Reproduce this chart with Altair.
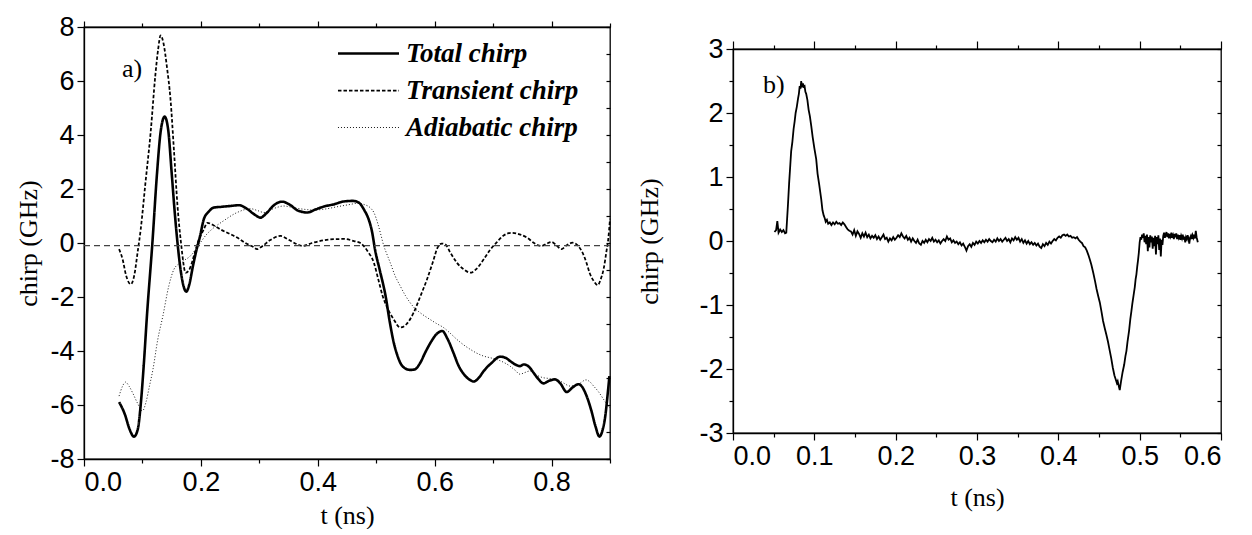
import altair as alt
import pandas as pd

# ---------------- Panel a) : simulated chirp ----------------
series_names = ["Total chirp", "Transient chirp", "Adiabatic chirp"]

total_t = [0.060, 0.070, 0.078, 0.0855, 0.092, 0.097, 0.102, 0.108, 0.117, 0.125, 0.131, 0.138, 0.144,
           0.150, 0.155, 0.160, 0.166, 0.171, 0.175, 0.180, 0.186, 0.192, 0.198, 0.205, 0.213, 0.222,
           0.235, 0.250, 0.265, 0.280, 0.292, 0.302, 0.312, 0.325, 0.339, 0.352, 0.366, 0.382, 0.397,
           0.412, 0.427, 0.445, 0.460, 0.470, 0.480, 0.487, 0.493, 0.498, 0.506, 0.516, 0.523, 0.530,
           0.536, 0.541, 0.550, 0.558, 0.566, 0.575, 0.584, 0.593, 0.603, 0.613, 0.622, 0.632, 0.641,
           0.650, 0.659, 0.667, 0.676, 0.684, 0.697, 0.712, 0.722, 0.729, 0.738, 0.746, 0.752, 0.758,
           0.764, 0.769, 0.778, 0.786, 0.796, 0.806, 0.815, 0.826, 0.836, 0.846, 0.853, 0.860, 0.868,
           0.875, 0.882, 0.887, 0.892, 0.896, 0.899]
total_v = [-5.89, -6.35, -6.90, -7.17, -6.90, -6.00, -4.60, -2.60, 0.00, 2.60, 4.10, 4.68, 4.20,
           2.60, 1.20, 0.00, -1.10, -1.65, -1.80, -1.55, -0.90, -0.30, 0.20, 0.88, 1.15, 1.31,
           1.34, 1.37, 1.40, 1.25, 1.05, 0.94, 1.10, 1.40, 1.53, 1.42, 1.20, 1.13, 1.25,
           1.36, 1.43, 1.54, 1.56, 1.50, 1.20, 0.88, 0.40, -0.25, -1.00, -1.96, -2.90, -3.69,
           -4.15, -4.43, -4.65, -4.70, -4.68, -4.45, -4.05, -3.69, -3.38, -3.26, -3.55, -4.06, -4.55,
           -4.86, -5.05, -5.13, -4.98, -4.74, -4.45, -4.21, -4.26, -4.37, -4.50, -4.56, -4.50, -4.53,
           -4.65, -4.80, -5.05, -5.20, -5.10, -5.05, -5.20, -5.52, -5.35, -5.23, -5.35, -5.67, -6.20,
           -6.78, -7.17, -6.95, -6.40, -5.60, -4.93]

trans_t = [0.060, 0.066, 0.072, 0.080, 0.086, 0.092, 0.097, 0.105, 0.114, 0.122, 0.127, 0.131, 0.136,
           0.142, 0.148, 0.154, 0.160, 0.166, 0.174, 0.181, 0.188, 0.196, 0.205, 0.211, 0.222, 0.233,
           0.248, 0.262, 0.276, 0.290, 0.296, 0.305, 0.318, 0.336, 0.352, 0.365, 0.374, 0.390, 0.410,
           0.427, 0.445, 0.462, 0.473, 0.485, 0.496, 0.503, 0.511, 0.520, 0.530, 0.541, 0.552, 0.564,
           0.575, 0.587, 0.597, 0.605, 0.612, 0.618, 0.628, 0.638, 0.650, 0.661, 0.672, 0.684, 0.695,
           0.706, 0.718, 0.732, 0.745, 0.758, 0.770, 0.783, 0.792, 0.800, 0.808, 0.817, 0.826, 0.836,
           0.845, 0.853, 0.860, 0.865, 0.872, 0.879, 0.884, 0.889, 0.894, 0.897, 0.900]
trans_v = [-0.23, -0.60, -1.20, -1.53, -1.20, -0.30, 0.50, 2.20, 4.09, 6.20, 7.20, 7.69, 7.40,
           6.50, 5.32, 3.40, 1.37, 0.00, -1.10, -0.95, -0.48, 0.10, 0.50, 0.75, 0.65, 0.51,
           0.35, 0.20, 0.00, -0.15, -0.23, -0.12, 0.10, 0.26, 0.10, -0.05, -0.11, 0.00, 0.10,
           0.14, 0.15, 0.07, 0.00, -0.30, -0.73, -1.30, -1.96, -2.45, -2.83, -3.13, -3.00, -2.58,
           -2.00, -1.34, -0.70, -0.17, -0.02, -0.05, -0.40, -0.73, -0.98, -1.10, -0.95, -0.60, -0.25,
           0.02, 0.28, 0.38, 0.32, 0.20, 0.00, -0.11, -0.02, 0.04, -0.08, -0.23, -0.08, 0.01,
           -0.10, -0.36, -0.75, -1.10, -1.40, -1.56, -1.35, -0.97, -0.30, 0.14, 0.90]

adia_t = [0.060, 0.066, 0.071, 0.077, 0.083, 0.092, 0.100, 0.106, 0.112, 0.118, 0.126, 0.135, 0.145,
          0.154, 0.165, 0.182, 0.199, 0.209, 0.219, 0.238, 0.262, 0.285, 0.297, 0.308, 0.325, 0.342,
          0.360, 0.376, 0.393, 0.410, 0.435, 0.456, 0.467, 0.480, 0.490, 0.496, 0.503, 0.508, 0.513,
          0.518, 0.524, 0.532, 0.541, 0.550, 0.558, 0.566, 0.575, 0.584, 0.592, 0.603, 0.615, 0.626,
          0.638, 0.650, 0.661, 0.672, 0.684, 0.695, 0.706, 0.718, 0.729, 0.738, 0.746, 0.754, 0.763,
          0.775, 0.786, 0.798, 0.809, 0.820, 0.832, 0.846, 0.859, 0.866, 0.872, 0.880, 0.889, 0.897, 0.900]
adia_v = [-5.67, -5.30, -5.15, -5.30, -5.54, -5.95, -6.22, -5.90, -5.30, -4.68, -3.60, -2.70, -1.60,
          -0.97, -0.73, -0.48, 0.01, 0.30, 0.51, 0.81, 1.13, 1.27, 1.20, 1.13, 1.28, 1.37,
          1.30, 1.25, 1.22, 1.25, 1.35, 1.43, 1.47, 1.42, 1.30, 1.13, 0.70, 0.30, -0.11,
          -0.40, -0.73, -1.20, -1.59, -1.95, -2.21, -2.42, -2.58, -2.72, -2.83, -2.98, -3.13, -3.33,
          -3.57, -3.78, -3.94, -4.08, -4.19, -4.25, -4.31, -4.42, -4.56, -4.72, -4.86, -4.80, -4.74,
          -4.90, -4.99, -5.02, -5.05, -5.18, -5.30, -5.23, -5.07, -5.15, -5.30, -5.50, -5.79, -6.04, -6.10]

baseline_t = [0.0, 0.9]
baseline_v = [-0.1, -0.1]

# ---------------- Panel b) : measured chirp ----------------
b_t = [0.051, 0.053, 0.0545, 0.056, 0.058, 0.060, 0.062, 0.064, 0.0655,
       0.0675, 0.069, 0.0705, 0.0715, 0.073, 0.0745, 0.0758, 0.077, 0.0785, 0.080, 0.081, 0.082,
       0.083, 0.0839, 0.085, 0.086, 0.087, 0.088, 0.089, 0.090, 0.0915, 0.093, 0.0945, 0.0962,
       0.098, 0.100, 0.1023, 0.104, 0.106, 0.1085, 0.110, 0.1115, 0.1127, 0.114, 0.1155, 0.117,
       0.119, 0.121, 0.123, 0.125, 0.127, 0.129, 0.131, 0.133, 0.135, 0.137, 0.139, 0.141, 0.143,
       0.145, 0.147, 0.149, 0.151, 0.153, 0.155, 0.157, 0.159, 0.161, 0.163, 0.165, 0.167, 0.169,
       0.171, 0.173, 0.175, 0.177, 0.179, 0.181, 0.183, 0.185, 0.187, 0.189, 0.191, 0.193, 0.195,
       0.197, 0.199, 0.201, 0.203, 0.205, 0.207, 0.209, 0.211, 0.213, 0.215, 0.217, 0.219, 0.221,
       0.223, 0.225, 0.227, 0.229, 0.231, 0.233, 0.235, 0.237, 0.239, 0.241, 0.243, 0.245, 0.247,
       0.249, 0.251, 0.253, 0.255, 0.257, 0.259, 0.261, 0.263, 0.265, 0.267, 0.269, 0.271, 0.273,
       0.275, 0.277, 0.279, 0.281, 0.283, 0.285, 0.287, 0.289, 0.291, 0.293, 0.295, 0.297, 0.299,
       0.301, 0.303, 0.305, 0.307, 0.309, 0.311, 0.313, 0.315, 0.317, 0.319, 0.321, 0.323, 0.325,
       0.327, 0.329, 0.331, 0.333, 0.335, 0.337, 0.339, 0.341, 0.343, 0.345, 0.347, 0.349, 0.351,
       0.353, 0.355, 0.357, 0.359, 0.361, 0.363, 0.365, 0.367, 0.369, 0.371, 0.373, 0.375, 0.377,
       0.379, 0.381, 0.383, 0.385, 0.387, 0.389, 0.391, 0.393, 0.395, 0.397, 0.399, 0.401, 0.403,
       0.405, 0.407, 0.409, 0.411, 0.413, 0.415, 0.417, 0.419, 0.421, 0.423, 0.425, 0.427, 0.429,
       0.431, 0.433, 0.435, 0.437, 0.439, 0.4406, 0.443, 0.445, 0.447, 0.449, 0.451, 0.453, 0.455,
       0.457, 0.459, 0.461, 0.463, 0.465, 0.467, 0.469, 0.4705, 0.472, 0.473, 0.4745, 0.4755, 0.477,
       0.479, 0.481, 0.4825, 0.4837, 0.485, 0.487, 0.4885, 0.4898, 0.491, 0.4925, 0.494, 0.495,
       0.496, 0.497, 0.498, 0.499, 0.500, 0.501, 0.502, 0.503, 0.504, 0.505, 0.506, 0.507, 0.508,
       0.509, 0.510, 0.511, 0.512, 0.513, 0.514, 0.515, 0.516, 0.517, 0.518, 0.519, 0.520, 0.521,
       0.522, 0.523, 0.524, 0.525, 0.526, 0.527, 0.528, 0.529, 0.530, 0.531, 0.532, 0.533, 0.534,
       0.535, 0.536, 0.537, 0.538, 0.539, 0.540, 0.541, 0.542, 0.543, 0.544, 0.545, 0.546, 0.547,
       0.548, 0.549, 0.550, 0.551, 0.552, 0.553, 0.554, 0.555, 0.556, 0.557, 0.558, 0.559, 0.560,
       0.561, 0.562, 0.563, 0.564, 0.565, 0.566, 0.567, 0.568, 0.569, 0.570, 0.5715]
b_v = [0.14, 0.17, 0.31, 0.13, 0.18, 0.14, 0.17, 0.12, 0.13,
       0.55, 0.90, 1.20, 1.40, 1.55, 1.75, 1.87, 2.00, 2.10, 2.23, 2.30, 2.42,
       2.38, 2.50, 2.40, 2.46, 2.41, 2.42, 2.33, 2.30, 2.20, 2.05, 1.95, 1.80,
       1.62, 1.45, 1.28, 1.05, 0.88, 0.65, 0.48, 0.40, 0.36, 0.30, 0.33, 0.27,
       0.29, 0.25, 0.29, 0.26, 0.30, 0.27, 0.28, 0.25, 0.29, 0.26, 0.22, 0.18, 0.16,
       0.15, 0.10, 0.17, 0.08, 0.15, 0.11, 0.05, 0.12, 0.07, 0.13, 0.06, 0.10, 0.04,
       0.08, 0.05, 0.09, 0.03, 0.07, 0.02, 0.06, 0.10, 0.03, 0.05, -0.01, 0.04, 0.01,
       0.06, 0.02, 0.05, 0.09, 0.06, 0.12, 0.07, 0.04, 0.08, 0.02, 0.05, -0.01, 0.04,
       0.00, -0.03, 0.02, -0.04, -0.06, 0.00, -0.03, 0.02, -0.02, 0.03, 0.00, 0.05, -0.01,
       0.02, -0.02, 0.01, -0.04, 0.00, 0.03, 0.00, 0.07, 0.02, 0.04, -0.02, 0.01, -0.03,
       -0.01, -0.05, -0.02, -0.07, -0.04, -0.09, -0.15, -0.08, -0.05, -0.09, -0.03, -0.06, -0.01,
       -0.04, 0.00, -0.03, 0.01, -0.02, 0.02, -0.01, 0.03, 0.00, -0.02, 0.02, -0.01, 0.04,
       0.00, 0.03, -0.01, 0.02, 0.05, 0.00, 0.03, -0.02, 0.04, 0.01, 0.06, 0.02, 0.05,
       -0.01, 0.03, -0.03, 0.01, -0.04, 0.00, -0.05, -0.02, -0.06, -0.03, -0.07, -0.04, -0.09,
       -0.11, -0.05, -0.08, -0.03, -0.06, -0.01, -0.04, 0.00, 0.03, 0.01, 0.05, 0.07, 0.05,
       0.09, 0.10, 0.08, 0.10, 0.07, 0.08, 0.05, 0.06, 0.04, 0.06, 0.02, -0.01, -0.03,
       -0.08, -0.10, -0.15, -0.22, -0.30, -0.37, -0.50, -0.62, -0.75, -0.86, -0.96, -1.10, -1.25,
       -1.36, -1.46, -1.57, -1.70, -1.83, -1.98, -2.10, -2.16, -2.22, -2.19, -2.28, -2.33, -2.20,
       -2.05, -1.93, -1.80, -1.72, -1.58, -1.40, -1.22, -1.10, -0.98, -0.85, -0.72, -0.60,
       -0.52, -0.40, -0.30, -0.18, -0.02, 0.06, 0.02, 0.10, 0.05, 0.12, -0.02, 0.08, -0.05,
       0.10, -0.16, 0.06, -0.10, 0.09, -0.02, 0.07, -0.12, 0.05, -0.08, 0.08, -0.21, 0.06,
       -0.05, 0.09, -0.14, 0.04, -0.24, 0.02, -0.06, 0.08, 0.13, 0.05, 0.10, 0.14, 0.06,
       0.12, 0.04, 0.11, 0.07, 0.13, 0.05, 0.09, 0.03, 0.11, 0.06, 0.12, 0.03, 0.10,
       0.05, 0.09, 0.02, 0.08, 0.04, 0.10, 0.02, 0.07, -0.02, 0.06, 0.03, 0.09, 0.04,
       -0.04, 0.05, 0.08, 0.03, 0.09, 0.05, 0.10, 0.04, 0.16, 0.06, -0.02]

panel_labels = ["a)", "b)"]
label_t = [0.065, 0.037]
label_v = [6.15, 2.31]

# ---------------- data frames ----------------
df_a = pd.concat([
    pd.DataFrame({"t": total_t, "chirp": total_v, "series": series_names[0]}),
    pd.DataFrame({"t": trans_t, "chirp": trans_v, "series": series_names[1]}),
    pd.DataFrame({"t": adia_t, "chirp": adia_v, "series": series_names[2]}),
], ignore_index=True)
df_base = pd.DataFrame({"t": baseline_t, "chirp": baseline_v})
df_b = pd.DataFrame({"t": b_t, "chirp": b_v})
df_lab_a = pd.DataFrame({"t": [label_t[0]], "chirp": [label_v[0]], "txt": [panel_labels[0]]})
df_lab_b = pd.DataFrame({"t": [label_t[1]], "chirp": [label_v[1]], "txt": [panel_labels[1]]})

SANS = "Liberation Sans"
SERIF = "Liberation Serif"

xa_vals = [round(i * 0.1, 2) for i in range(10)]
ya_vals = list(range(-8, 9))
xb_vals = [round(i * 0.05, 2) for i in range(13)]
yb_vals = [round(-3 + i * 0.5, 1) for i in range(13)]

major_xa = "abs(round(datum.value*10)) % 2 == 0"
major_ya = "abs(round(datum.value)) % 2 == 0"
major_xb = "abs(round(datum.value*20)) % 2 == 0"
major_yb = "abs(round(datum.value*2)) % 2 == 0"


def tick_cond(test, big, small):
    return {"condition": {"test": test, "value": big}, "value": small}


# ---------------- Panel a ----------------
sx_a = alt.Scale(domain=[0, 0.9], nice=False, zero=False)
sy_a = alt.Scale(domain=[-8, 8], nice=False, zero=False)

legend_a = alt.Legend(
    orient="none", legendX=271, legendY=13,
    symbolType="M-3,0L3,0", symbolSize=414,
    symbolStrokeColor="black", symbolFillColor="transparent",
    labelFont=SERIF, labelFontSize=27, labelFontStyle="italic",
    labelFontWeight="bold", labelColor="black", labelLimit=0,
    labelOffset=24, rowPadding=9, padding=0)

lines_a = alt.Chart(df_a).mark_line(color="black", interpolate="monotone").encode(
    x=alt.X("t:Q", scale=sx_a, axis=alt.Axis(
        orient="bottom", values=xa_vals, title="t (ns)", titlePadding=7,
        labelExpr=f"{major_xa} ? format(datum.value, '.1f') : ''",
        tickSize=tick_cond(major_xa, 7, 4), labelPadding=3)),
    y=alt.Y("chirp:Q", scale=sy_a, axis=alt.Axis(
        orient="left", values=ya_vals, title="chirp (GHz)", titlePadding=8,
        labelExpr=f"{major_ya} ? '' + datum.value : ''",
        tickSize=tick_cond(major_ya, 7, 4), labelPadding=3)),
    strokeDash=alt.StrokeDash("series:N", title=None,
                              scale=alt.Scale(domain=series_names, range=[[1, 0], [3.5, 2], [1, 2]]),
                              legend=legend_a),
    strokeWidth=alt.StrokeWidth("series:N", title=None,
                                scale=alt.Scale(domain=series_names, range=[2.6, 0.9, 0.9]),
                                legend=legend_a),
    order=alt.Order("t:Q"),
)

text_a = alt.Chart(df_lab_a).mark_text(font=SERIF, fontSize=26, align="left",
                                        baseline="alphabetic", color="black").encode(
    x=alt.X("t:Q", scale=sx_a), y=alt.Y("chirp:Q", scale=sy_a), text="txt:N")

base_a = alt.Chart(df_base).mark_line(color="#444444", strokeDash=[6, 4], strokeWidth=1.3).encode(
    x=alt.X("t:Q", scale=sx_a, axis=alt.Axis(
        orient="top", values=xa_vals, labels=False, title=None,
        tickSize=tick_cond(major_xa, 6, 4))),
    y=alt.Y("chirp:Q", scale=sy_a, axis=alt.Axis(
        orient="right", values=ya_vals, labels=False, title=None, domain=False,
        offset=-4, tickSize=4)),
)

panel_a = alt.layer(alt.layer(lines_a, text_a), base_a).resolve_axis(
    x="independent", y="independent").properties(width=526, height=432)

# ---------------- Panel b ----------------
sx_b = alt.Scale(domain=[0, 0.6], nice=False, zero=False)
sy_b = alt.Scale(domain=[-3, 3], nice=False, zero=False)

line_b = alt.Chart(df_b).mark_line(color="black", strokeWidth=1.8).encode(
    x=alt.X("t:Q", scale=sx_b, axis=alt.Axis(
        orient="bottom", values=xb_vals, title="t (ns)", titlePadding=15,
        labelExpr=f"{major_xb} ? format(datum.value, '.1f') : ''",
        tickSize=tick_cond(major_xb, 7, 4), labelPadding=3)),
    y=alt.Y("chirp:Q", scale=sy_b, axis=alt.Axis(
        orient="left", values=yb_vals, title="chirp (GHz)", titlePadding=36,
        labelExpr=f"{major_yb} ? '' + datum.value : ''",
        tickSize=tick_cond(major_yb, 7, 4), labelPadding=3)),
    order=alt.Order("t:Q"),
)

text_b = alt.Chart(df_lab_b).mark_text(font=SERIF, fontSize=26, align="left",
                                        baseline="alphabetic", color="black").encode(
    x=alt.X("t:Q", scale=sx_b, axis=alt.Axis(
        orient="top", values=xb_vals, labels=False, title=None,
        tickSize=tick_cond(major_xb, 8, 4))),
    y=alt.Y("chirp:Q", scale=sy_b, axis=alt.Axis(
        orient="right", values=yb_vals, labels=False, title=None, domain=False,
        offset=-4, tickSize=4)),
    text="txt:N")

panel_b = alt.layer(line_b, text_b).resolve_axis(
    x="independent", y="independent").properties(width=488, height=384)

# empty, invisible strip that lowers panel b relative to panel a
spacer = alt.Chart(pd.DataFrame({"s": [0]})).mark_point(opacity=0, size=1).properties(
    width=488, height=1, view=alt.ViewBackground(stroke="transparent"))

right_col = alt.vconcat(spacer, panel_b, spacing=5)

chart = alt.hconcat(panel_a, right_col, spacing=20).properties(
    padding={"left": 7, "top": 4, "right": 0, "bottom": 0}
).configure_view(stroke="black", strokeWidth=1.3).configure_axis(
    grid=False, domainColor="black", domainWidth=1.3, tickColor="black", tickWidth=1.2,
    labelFont=SANS, labelFontSize=27, labelColor="black",
    titleFont=SERIF, titleFontSize=26, titleFontWeight="normal", titleColor="black",
).configure_legend(symbolStrokeColor="black")

chart.save("out.html", embed_options={"renderer": "svg", "actions": False})
